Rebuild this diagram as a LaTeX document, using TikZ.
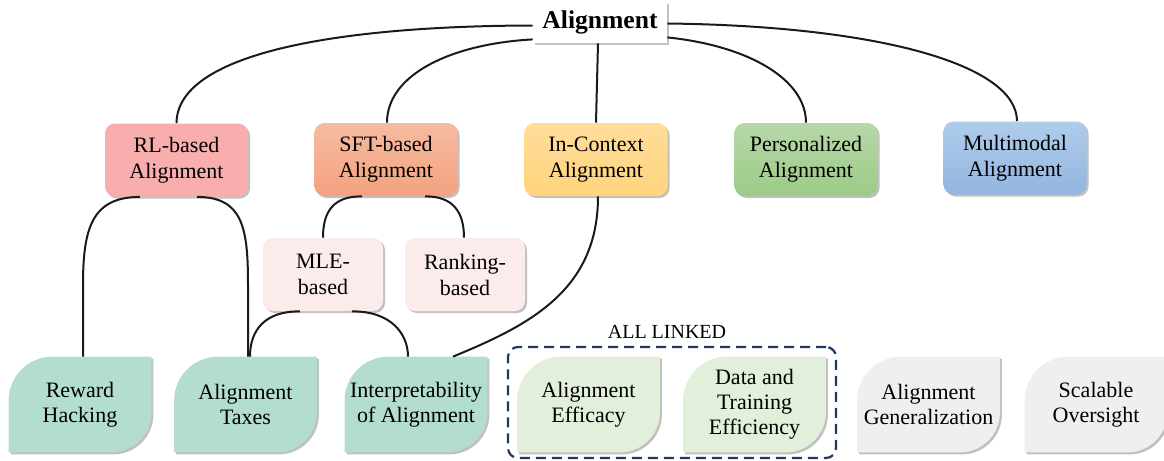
\documentclass[tikz,border=0pt]{standalone}
\usepackage{fontspec}
\setmainfont{Liberation Serif}
\usetikzlibrary{shadows,calc,backgrounds}
\definecolor{rlpink}{HTML}{F9AEAE}
\definecolor{sfttop}{HTML}{F6BBA0}
\definecolor{sftbot}{HTML}{F4A27F}
\definecolor{ictop}{HTML}{FFDC9B}
\definecolor{icbot}{HTML}{FFD47B}
\definecolor{pstop}{HTML}{B7D8A9}
\definecolor{psbot}{HTML}{9CCB86}
\definecolor{mmtop}{HTML}{AFCCEB}
\definecolor{mmbot}{HTML}{93B5DF}
\definecolor{lightpink}{HTML}{FBEBEA}
\definecolor{teal}{HTML}{B3DDD1}
\definecolor{ltgreen}{HTML}{E2EFDA}
\definecolor{ltgrey}{HTML}{EFEFEF}
\definecolor{navy}{HTML}{1F3864}
\definecolor{linecol}{HTML}{1A1A1A}
\newcommand\leafshape[2]{%
  \fill[#2, leafshadow] (#1.south west) -- ([yshift=-22pt]#1.north west)
    arc[start angle=180,end angle=90,radius=22pt] -- (#1.north east)
    -- ([yshift=20pt]#1.south east)
    arc[start angle=0,end angle=-90,radius=20pt] -- cycle;}
\begin{document}
\begin{tikzpicture}[x=0.5pt,y=-0.5pt,
  boxshadow/.style={drop shadow={shadow xshift=1pt,shadow yshift=-1pt,opacity=0.35,fill=black!70}},
  leafshadow/.style={drop shadow={shadow xshift=1pt,shadow yshift=-1pt,opacity=0.35,fill=black!70}},
  box/.style={rounded corners=5pt, minimum width=71.5pt, minimum height=36.5pt, inner sep=0pt,
    align=center, font=\fontsize{11}{13}\selectfont, boxshadow},
  subbox/.style={box, minimum width=60pt, fill=lightpink},
  leaf/.style={minimum width=71pt, minimum height=47.5pt, inner sep=0pt, align=center,
    font=\fontsize{11}{12.5}\selectfont},
  conn/.style={draw=linecol, line width=1pt},
  groupbox/.style={draw=navy, line width=1.1pt, dash pattern=on 5pt off 3pt, rounded corners=5pt}
]
\useasboundingbox (0,0) rectangle (1164,461);

% root
\node[fill=white, minimum width=67pt, minimum height=20.5pt, inner sep=0pt, boxshadow,
  font=\fontsize{12.8}{14}\selectfont\bfseries] (root) at (600,22.5) {Alignment};

% level 2
\node[box, fill=rlpink] (rl) at (176.5,160) {RL-based\\Alignment};
\node[box, top color=sfttop, bottom color=sftbot] (sft) at (386,159.5) {SFT-based\\Alignment};
\node[box, top color=ictop, bottom color=icbot] (ic) at (596,159.5) {In-Context\\Alignment};
\node[box, top color=pstop, bottom color=psbot] (ps) at (806,159.5) {Personalized\\Alignment};
\node[box, top color=mmtop, bottom color=mmbot] (mm) at (1015,158) {Multimodal\\Alignment};

% level 3
\node[subbox] (mle) at (323,274.5) {MLE-\\based};
\node[subbox] (rank) at (465,274.5) {Ranking-\\based};

% leaves
\node[leaf] (rh) at (80,404.5) {Reward\\Hacking};
\node[leaf] (at) at (245.5,404.5) {Alignment\\Taxes};
\node[leaf] (ia) at (416,404.5) {Interpretability\\of Alignment};
\node[leaf] (ae) at (588.5,404.5) {Alignment\\Efficacy};
\node[leaf] (dt) at (754.5,404.5) {Data and\\Training\\Efficiency};
\node[leaf] (ag) at (928.5,404.5) {Alignment\\Generalization};
\node[leaf] (so) at (1096,404.5) {Scalable\\Oversight};

\begin{scope}[on background layer]
  \leafshape{rh}{teal}
  \leafshape{at}{teal}
  \leafshape{ia}{teal}
  \leafshape{ae}{ltgreen}
  \leafshape{dt}{ltgreen}
  \leafshape{ag}{ltgrey}
  \leafshape{so}{ltgrey}
\end{scope}

% group
\node[groupbox, fit/.style={}, minimum width=164pt, minimum height=55.5pt, inner sep=0pt] (grp) at (672,402.5) {};
\node[font=\fontsize{10}{12}\selectfont, anchor=south, inner sep=0pt] (lbl) at ($(grp.north)+(-5,-7)$) {ALL LINKED};

% top connectors
\draw[conn] ($(root.west)+(0,3)$) .. controls (330,26) and (177,55) .. (rl.north);
\draw[conn] ($(root.south west)+(0,-4)$) .. controls (450,44) and (387,75) .. ($(sft.north)+(1,0)$);
\draw[conn] ($(root.south)+(-2,0)$) -- (ic.north);
\draw[conn] ($(root.south east)+(0,-6)$) .. controls (750,46) and (806,80) .. (ps.north);
\draw[conn] ($(root.east)+(0,1)$) .. controls (880,26) and (1017,65) .. ($(mm.north)+(2,0)$);

% RL children
\draw[conn] ($(rl.south)+(-36.5,0)$) .. controls (92,197) and (83,228) .. (83,285) -- ($(rh.north)+(3,0)$);
\draw[conn] ($(rl.south)+(20.5,0)$) .. controls (243,197) and (248,228) .. (248,285) -- ($(at.north)+(2.5,0)$);

% SFT children
\draw[conn] ($(sft.south)+(-24,0)$) .. controls (333,196) and (323,212) .. (mle.north);
\draw[conn] ($(sft.south)+(39,0)$) .. controls (453,196) and (464,212) .. ($(rank.north)+(-1,0)$);

% MLE children
\draw[conn] ($(mle.south)+(-23,0)$) .. controls (265,311) and (250,330) .. ($(at.north)+(4.5,0)$);
\draw[conn] ($(mle.south)+(29,0)$) .. controls (390,311) and (408,333) .. ($(ia.north)+(-8,0)$);

% In-Context child
\draw[conn] ($(ic.south)+(2,0)$) .. controls (598,290) and (530,325) .. ($(ia.north)+(37,0)$);
\end{tikzpicture}
\end{document}
